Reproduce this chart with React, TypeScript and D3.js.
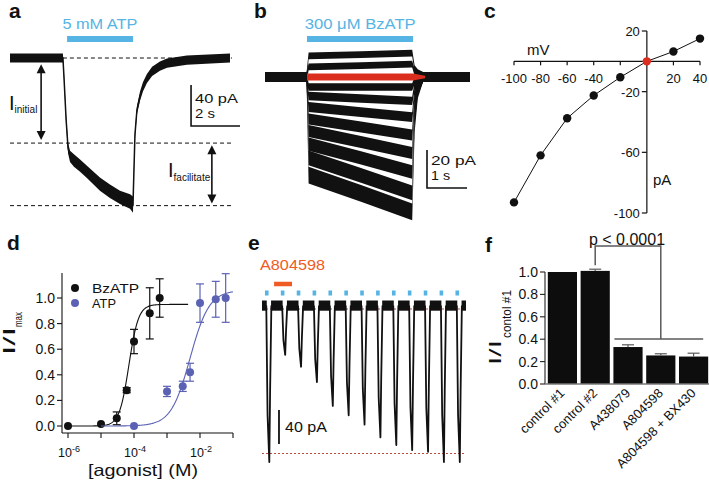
import React from 'react';
import * as d3 from 'd3';

const FONT = "'Liberation Sans', Arial, Helvetica, sans-serif";
const INK = '#111111';
const BLUE = '#55b4e4';
const RED = '#dc2e1e';
const ORANGE = '#ef5b23';
const PURPLE = '#5b62b4';

// ---------- panel a : ATP response (time s, current pA, noise half-width pA)
const aTime = [0, 2.16, 2.2, 2.29, 2.37, 2.45, 2.61, 2.86, 3.14, 3.67, 4.08, 4.49, 4.9, 5.02, 5.06, 5.1, 5.18, 5.31, 5.43, 5.59, 5.8, 6.12, 6.41, 7.22, 8.98];
const aCurrent = [0, 0, -17, -60, -88, -96, -100, -105, -111, -123, -130, -136, -140, -143, -109, -75, -51, -37, -28, -20, -13, -8, -5, -2, 0];
const aNoise = [4.5, 4.5, 3, 4, 5, 5.5, 6, 6, 6, 6.5, 6.5, 6.5, 7, 8, 4, 4, 4, 4.5, 4.5, 4.5, 4.5, 4.5, 4.5, 4.5, 4.5];
const aLevels = [0, -83, -144];
const aLevelStart = [2.16, 0, 0];

// ---------- panel b : BzATP responses at stepped voltages (pA)
const bStart = [11.1, 5.3, 0, -5.3, -10, -15.8, -22.1, -28.4, -35.3, -42.6, -51.6];
const bMid = [11.8, 6.0, 0, -5.3, -11.3, -18.5, -26.3, -34.2, -42.6, -51.8, -61.3];
const bEnd = [12.6, 6.8, 0, -5.3, -12.6, -21.1, -30.5, -40, -50, -61, -71];
const bNoise = [1.8, 1.8, 1.8, 2.0, 2.2, 2.6, 2.9, 3.2, 3.5, 3.9, 4.4];
const bRedIndex = 2;

// ---------- panel c : I-V relation
const cVoltage = [-100, -80, -60, -40, -20, 0, 20, 40];
const cCurrent = [-93, -62, -37.5, -22.5, -10.5, 0, 6.5, 15];
const cXTicks = [-100, -80, -60, -40, -20, 0, 20, 40];
const cXLabels = [-100, -80, -60, -40, 20, 40];
const cYTicks = [20, -20, -60, -100];

// ---------- panel d : concentration-response
const dBzConc = [1e-6, 1e-5, 3e-5, 6e-5, 1e-4, 3e-4, 6e-4];
const dBzMean = [0.0, 0.015, 0.06, 0.28, 0.66, 0.88, 1.0];
const dBzErr = [0, 0, 0.05, 0.02, 0.095, 0.2, 0.15];
const dAtpConc = [1e-4, 1e-3, 3e-3, 5e-3, 1e-2, 3e-2, 6e-2];
const dAtpMean = [0.0, 0.27, 0.31, 0.42, 0.96, 0.99, 1.0];
const dAtpErr = [0, 0.04, 0.04, 0.07, 0.15, 0.14, 0.19];
const dFitBz = { ec50: 7e-5, n: 3, top: 0.95, from: 1e-6, to: 4.4e-3 };
const dFitAtp = { ec50: 5e-3, n: 1.5, top: 1.06, from: 1e-5, to: 1e-1 };
const dYTicks = [0, 0.2, 0.4, 0.6, 0.8, 1.0];
const dXTicks = [1e-6, 1e-5, 1e-4, 1e-3, 1e-2, 1e-1];
const dXLabelExp = [-6, -4, -2];

// ---------- panel e : repeated applications
const eTip = [-180, -54, -68, -86, -114, -125, -136, -151, -160, -166, -168, -180, -180];
const eBaseline = 4;
const eRefLevels = [0, -170];
const eDrug = [0.46, 1.59];
const eSpikeT = [-0.03, 0.05, 0.16, 0.21, 0.29];
const eSpikeF = [0, 0.7, 1, 0.55, 0];

// ---------- panel f : normalized currents
const fCats = ['control #1', 'control #2', 'A438079', 'A804598', 'A804598 + BX430'];
const fMean = [1.0, 1.01, 0.33, 0.255, 0.245];
const fErr = [0, 0.015, 0.02, 0.015, 0.03];
const fYTicks = [0, 0.2, 0.4, 0.6, 0.8, 1.0];

type TP = { x: number; y: number; s?: number; w?: number; a?: string; c?: string; b?: boolean; children?: any };
const T = ({ x, y, s = 14, w, a = 'start', c = INK, b = false, children }: TP) => (
  <text x={x} y={y} fontSize={s} textAnchor={a as any} fill={c} fontWeight={b ? 'bold' : 'normal'}
    textLength={w} lengthAdjust={w ? 'spacingAndGlyphs' : undefined}>{children}</text>
);

function Arrow({ x, y1, y2 }: { x: number; y1: number; y2: number }) {
  const h = 9, hw = 4.5;
  return (
    <g fill={INK} stroke={INK}>
      <line x1={x} x2={x} y1={y1 + h - 1} y2={y2 - h + 1} strokeWidth={1.6} />
      <path d={`M${x},${y1} L${x - hw},${y1 + h} L${x + hw},${y1 + h} Z`} stroke="none" />
      <path d={`M${x},${y2} L${x - hw},${y2 - h} L${x + hw},${y2 - h} Z`} stroke="none" />
    </g>
  );
}

function PanelA() {
  const x = d3.scaleLinear().domain([0, 8.98]).range([10, 230]);
  const y = d3.scaleLinear().domain([0, -143]).range([58, 204.6]);
  const pts = aTime.map((t, i) => ({ t, v: aCurrent[i], n: aNoise[i] }));
  const area = d3.area<any>().x(d => x(d.t)).y0(d => y(d.v + d.n)).y1(d => y(d.v - d.n));
  const line = d3.line<any>().x(d => x(d.t)).y(d => y(d.v));
  return (
    <g>
      <T x={9} y={18} s={21} b>a</T>
      <line x1={x(2.33)} x2={x(5.02)} y1={39} y2={39} stroke={BLUE} strokeWidth={6} />
      <T x={x(3.67)} y={29} s={14} w={75} a="middle" c={BLUE}>5 mM ATP</T>
      {aLevels.map((v, i) => (
        <line key={i} x1={x(aLevelStart[i])} x2={x(9.06)} y1={y(v)} y2={y(v)} stroke={INK} strokeWidth={1} strokeDasharray="4,3" />
      ))}
      <path d={area(pts) || ''} fill={INK} />
      <path d={line(pts) || ''} fill="none" stroke={INK} strokeWidth={1.5} />
      <Arrow x={x(1.27)} y1={y(-6)} y2={y(-80)} />
      <Arrow x={x(8.24)} y1={y(-85)} y2={y(-142)} />
      <text x={9} y={110} fontSize={20} fill={INK}>I<tspan dy={3} fontSize={10}>initial</tspan></text>
      <text x={168} y={177} fontSize={20} fill={INK}>I<tspan dy={3.5} fontSize={10}>facilitate</tspan></text>
      <path d={`M${x(7.39)},${y(-26.3)} V${y(-66.3)} H${x(9.39)}`} fill="none" stroke={INK} strokeWidth={1.6} />
      <T x={195} y={103} s={13} w={43}>40 pA</T>
      <T x={195} y={118} s={13} w={20}>2 s</T>
    </g>
  );
}

function PanelB() {
  const x = d3.scaleLinear().domain([0, 5.125]).range([265, 470]);
  const y = d3.scaleLinear().domain([0, -40]).range([77, 153]);
  const bTime = [0, 1.04, 1.09, 2.4, 3.68, 3.74, 3.82, 3.95, 5.125];
  const base = 2.6;
  const area = d3.area<any>().x(d => x(d.t)).y0(d => y(d.v + d.n)).y1(d => y(d.v - d.n));
  const traces = bStart.map((s, i) => {
    const vals = [0, 0, s, bMid[i], bEnd[i], bEnd[i] * 0.35, bEnd[i] * 0.12, 0, 0];
    const noise = [base, base, bNoise[i], bNoise[i], bNoise[i], bNoise[i], base, base, base];
    return bTime.map((t, j) => ({ t, v: vals[j], n: noise[j] }));
  });
  const red = [
    { t: 1.05, v: bStart[bRedIndex], n: 1.8 },
    { t: 2.4, v: bMid[bRedIndex], n: 1.8 },
    { t: 3.7, v: bEnd[bRedIndex], n: 1.8 },
    { t: 4.0, v: 0, n: 0.6 },
  ];
  return (
    <g>
      <T x={254} y={18} s={21} b>b</T>
      <line x1={x(1.05)} x2={x(3.7)} y1={39} y2={39} stroke={BLUE} strokeWidth={6} />
      <T x={x(2.38)} y={29} s={14} w={111} a="middle" c={BLUE}>300 μM BzATP</T>
      {traces.map((tr, i) => i === bRedIndex ? null : <path key={i} d={area(tr) || ''} fill={INK} />)}
      <path d={area(red) || ''} fill={RED} />
      <path d={`M${x(4.05)},${y(-38.4)} V${y(-58.4)} H${x(5.05)}`} fill="none" stroke={INK} strokeWidth={1.6} />
      <T x={431} y={165} s={13} w={45}>20 pA</T>
      <T x={431} y={180} s={13} w={19}>1 s</T>
    </g>
  );
}

function PanelC() {
  const x = d3.scaleLinear().domain([-100, 40]).range([514, 700]);
  const y = d3.scaleLinear().domain([20, -100]).range([31, 213]);
  const line = d3.line<number>().x((_, i) => x(cVoltage[i])).y(d => y(d));
  return (
    <g>
      <T x={484} y={18} s={21} b>c</T>
      <line x1={x(-100)} x2={x(40)} y1={y(0)} y2={y(0)} stroke={INK} strokeWidth={1.2} />
      <line x1={x(0)} x2={x(0)} y1={y(20)} y2={y(-100)} stroke={INK} strokeWidth={1.2} />
      {cXTicks.map(v => <line key={v} x1={x(v)} x2={x(v)} y1={y(0)} y2={y(0) + 4} stroke={INK} strokeWidth={1.2} />)}
      {cXLabels.map(v => <T key={v} x={x(v)} y={83} s={13} a="middle">{String(v)}</T>)}
      {cYTicks.map(v => <line key={v} x1={x(0) - 5} x2={x(0)} y1={y(v)} y2={y(v)} stroke={INK} strokeWidth={1.2} />)}
      {cYTicks.map(v => <T key={v} x={x(0) - 7} y={y(v) + 5} s={13} a="end">{String(v)}</T>)}
      <T x={527} y={55} s={15}>mV</T>
      <T x={653} y={185} s={15}>pA</T>
      <path d={line(cCurrent) || ''} fill="none" stroke={INK} strokeWidth={1} />
      {cCurrent.map((v, i) => (
        <circle key={i} cx={x(cVoltage[i])} cy={y(v)} r={4.2} fill={cVoltage[i] === 0 ? RED : INK} />
      ))}
    </g>
  );
}

function PanelD() {
  const x = d3.scaleLog().domain([1e-6, 1e-1]).range([68, 233]);
  const y = d3.scaleLinear().domain([0, 1]).range([426, 298]);
  const hill = (f: any) => {
    const xs = d3.range(Math.log10(f.from), Math.log10(f.to) + 1e-9, 0.02).map(e => Math.pow(10, e));
    return xs.map(c => [c, f.top * Math.pow(c, f.n) / (Math.pow(c, f.n) + Math.pow(f.ec50, f.n))]);
  };
  const line = d3.line<number[]>().x(d => x(d[0])).y(d => y(d[1]));
  const series = [
    { conc: dBzConc, mean: dBzMean, err: dBzErr, col: INK, fit: dFitBz },
    { conc: dAtpConc, mean: dAtpMean, err: dAtpErr, col: PURPLE, fit: dFitAtp },
  ];
  const axisY = 433;
  const axisX = 62;
  return (
    <g>
      <T x={7} y={250} s={21} b>d</T>
      <line x1={axisX} x2={axisX} y1={y(1.195)} y2={axisY} stroke={INK} strokeWidth={1.1} />
      {dYTicks.map(v => <line key={v} x1={57} x2={axisX} y1={y(v)} y2={y(v)} stroke={INK} strokeWidth={1.1} />)}
      {dYTicks.map(v => <T key={v} x={55} y={y(v) + 5} s={14} a="end">{v.toFixed(1)}</T>)}
      <line x1={axisX} x2={x(1e-1)} y1={axisY} y2={axisY} stroke={INK} strokeWidth={1.1} />
      {dXTicks.map(v => <line key={v} x1={x(v)} x2={x(v)} y1={axisY} y2={axisY + 5} stroke={INK} strokeWidth={1.1} />)}
      {dXLabelExp.map(e => (
        <text key={e} x={x(Math.pow(10, e)) + 1} y={457} fontSize={12.5} textAnchor="middle" fill={INK}>
          10<tspan dy={-5} fontSize={9}>{String(e)}</tspan>
        </text>
      ))}
      <T x={143} y={476} s={16.5} w={110} a="middle">[agonist]  (M)</T>
      <g transform="translate(15,0) rotate(-90)">
        <T x={-355} y={0} s={17} w={28}>I/I</T>
      </g>
      <g transform="translate(22,0) rotate(-90)">
        <T x={-327} y={0} s={11} w={15}>max</T>
      </g>
      {series.map((s, k) => (
        <g key={k}>
          <path d={line(hill(s.fit)) || ''} fill="none" stroke={s.col} strokeWidth={1.1} />
          {s.conc.map((c, i) => s.err[i] > 0 ? (
            <g key={i} stroke={s.col} strokeWidth={1.2}>
              <line x1={x(c)} x2={x(c)} y1={y(s.mean[i] - s.err[i])} y2={y(s.mean[i] + s.err[i])} />
              <line x1={x(c) - 4} x2={x(c) + 4} y1={y(s.mean[i] - s.err[i])} y2={y(s.mean[i] - s.err[i])} />
              <line x1={x(c) - 4} x2={x(c) + 4} y1={y(s.mean[i] + s.err[i])} y2={y(s.mean[i] + s.err[i])} />
            </g>
          ) : null)}
          {s.conc.map((c, i) => <circle key={'p' + i} cx={x(c)} cy={y(s.mean[i])} r={4} fill={s.col} />)}
        </g>
      ))}
      <circle cx={75} cy={288} r={4} fill={INK} />
      <T x={92} y={292.5} s={13.5} w={47}>BzATP</T>
      <circle cx={75} cy={303} r={4} fill={PURPLE} />
      <T x={92} y={308} s={13.5} w={24}>ATP</T>
    </g>
  );
}

function PanelE() {
  const x = d3.scaleLinear().domain([-0.3, 12.55]).range([262, 466]);
  const y = d3.scaleLinear().domain([0, -100]).range([309, 394]);
  const band = d3.area<number>().x(t => x(t)).y0(() => y(eBaseline - 6)).y1(() => y(eBaseline + 6));
  const line = d3.line<number[]>().x(d => x(d[0])).y(d => y(d[1]));
  const segs: number[][] = [];
  for (let k = -1; k < eTip.length; k++) {
    const a = Math.max(-0.3, k + 0.27), b = Math.min(12.55, k + 1.0);
    if (b > a) segs.push([a, b]);
  }
  return (
    <g>
      <T x={248} y={250} s={21} b>e</T>
      <T x={260} y={270} s={14} w={65} c={ORANGE}>A804598</T>
      <line x1={x(eDrug[0])} x2={x(eDrug[1])} y1={284} y2={284} stroke={ORANGE} strokeWidth={4.5} />
      {eTip.map((_, i) => <rect key={i} x={x(i) - 1.8} y={290.5} width={3.6} height={5} fill={BLUE} />)}
      {eRefLevels.map(v => (
        <line key={v} x1={x(-0.3)} x2={x(12.55)} y1={y(v)} y2={y(v)} stroke="#b5352a" strokeWidth={0.9} strokeDasharray="2,2" />
      ))}
      {segs.map((s, i) => <path key={i} d={band([s[0], s[1]]) || ''} fill={INK} />)}
      {eTip.map((tip, i) => (
        <path key={i} d={line(eSpikeT.map((dt, j) => [i + dt, eBaseline + eSpikeF[j] * (tip - eBaseline)])) || ''}
          fill="none" stroke={INK} strokeWidth={1.8} strokeLinejoin="round" />
      ))}
      <line x1={x(0.77)} x2={x(0.77)} y1={y(-118.8)} y2={y(-158.8)} stroke={INK} strokeWidth={1.8} />
      <T x={285} y={432} s={14} w={42}>40 pA</T>
    </g>
  );
}

function PanelF() {
  const x = d3.scaleBand<string>().domain(fCats).range([546.5, 709.5]).paddingInner(0.11).paddingOuter(0.04);
  const y = d3.scaleLinear().domain([0, 1]).range([384, 272]);
  const bw = x.bandwidth();
  const cx = (c: string) => (x(c) as number) + bw / 2;
  const gray = '#5a5a5a';
  return (
    <g>
      <T x={485} y={252} s={21} b>f</T>
      <T x={627} y={245} s={16} a="middle">p &lt; 0.0001</T>
      {fCats.map((c, i) => (
        <rect key={c} x={x(c)} y={y(fMean[i])} width={bw} height={y(0) - y(fMean[i])} fill="#0d0d0d" />
      ))}
      {fCats.map((c, i) => fErr[i] > 0 ? (
        <g key={c} stroke={gray} strokeWidth={1.2}>
          <line x1={cx(c)} x2={cx(c)} y1={y(fMean[i])} y2={y(fMean[i] + fErr[i])} />
          <line x1={cx(c) - 6} x2={cx(c) + 6} y1={y(fMean[i] + fErr[i])} y2={y(fMean[i] + fErr[i])} />
        </g>
      ) : null)}
      <path d={`M${cx(fCats[1])},${y(1.06)} V${y(1.232)} H${cx(fCats[3])} V${y(0.402)}`} fill="none" stroke={gray} strokeWidth={1.5} />
      <line x1={(x(fCats[2]) as number) + 1} x2={(x(fCats[4]) as number) + bw - 5} y1={y(0.402)} y2={y(0.402)} stroke={gray} strokeWidth={1.5} />
      <line x1={545} x2={545} y1={y(1.0)} y2={y(0)} stroke="#222" strokeWidth={1.1} />
      <line x1={545} x2={709} y1={y(0)} y2={y(0)} stroke="#777" strokeWidth={1.3} />
      {fYTicks.map(v => <line key={v} x1={540} x2={545} y1={y(v)} y2={y(v)} stroke="#222" strokeWidth={1.1} />)}
      {fYTicks.map(v => <T key={v} x={538} y={y(v) + 5} s={14} a="end">{v.toFixed(1)}</T>)}
      {fCats.map(c => (
        <g key={c} transform={`translate(${cx(c) + 3},${394}) rotate(-45)`}>
          <text x={0} y={0} fontSize={13} textAnchor="end" fill={INK}>{c}</text>
        </g>
      ))}
      <g transform="translate(501,0) rotate(-90)">
        <T x={-365} y={0} s={17} w={25}>I/I</T>
      </g>
      <g transform="translate(511,0) rotate(-90)">
        <T x={-338} y={0} s={12} w={48}>contol #1</T>
      </g>
    </g>
  );
}

export default function App() {
  return (
    <div style={{ position: 'absolute', left: 0, top: 0 }}>
      <svg width={709} height={482} style={{ display: 'block', background: '#fff' }} fontFamily={FONT}>
        <PanelA />
        <PanelB />
        <PanelC />
        <PanelD />
        <PanelE />
        <PanelF />
      </svg>
    </div>
  );
}
